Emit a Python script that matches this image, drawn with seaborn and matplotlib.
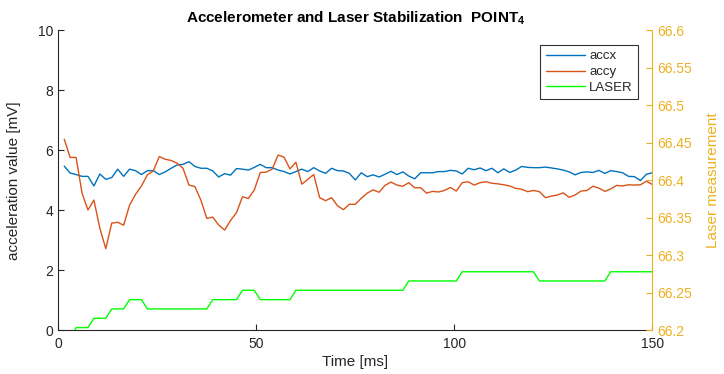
import numpy as np
import pandas as pd
import matplotlib
matplotlib.use("Agg")
import matplotlib.pyplot as plt
import seaborn as sns

# sampling grid: one reading every 1.5 ms
time_ms = np.round(np.arange(1, 101) * 1.5, 1)

accx = [5.47, 5.24, 5.19, 5.13, 5.13, 4.81, 5.21, 5.03, 5.09, 5.37,
        5.13, 5.37, 5.32, 5.19, 5.32, 5.32, 5.19, 5.28, 5.40, 5.51,
        5.53, 5.62, 5.46, 5.40, 5.40, 5.31, 5.11, 5.22, 5.17, 5.39,
        5.37, 5.34, 5.43, 5.53,
        5.42, 5.42, 5.34, 5.29, 5.21, 5.29, 5.37, 5.29, 5.42, 5.31,
        5.23, 5.40, 5.32, 5.31, 5.23, 5.01, 5.25, 5.12, 5.18, 5.11,
        5.20, 5.30, 5.19, 5.28, 5.14, 5.05, 5.25, 5.25, 5.25, 5.29,
        5.29, 5.33, 5.31,
        5.21, 5.40, 5.35, 5.41, 5.32, 5.40, 5.25, 5.38, 5.26, 5.34,
        5.46, 5.43, 5.42, 5.42, 5.44, 5.41, 5.38, 5.34, 5.28, 5.18,
        5.26, 5.28, 5.26, 5.33, 5.23, 5.32, 5.29, 5.25, 5.13, 5.12,
        4.99, 5.20, 5.25]

accy = [6.37, 5.76, 5.76, 4.57, 4.01, 4.34, 3.40, 2.72, 3.57, 3.60,
        3.50, 4.17, 4.53, 4.81, 5.18, 5.31, 5.79, 5.70, 5.66, 5.57,
        5.40, 4.84, 4.79, 4.34, 3.73, 3.77, 3.51, 3.34, 3.66, 3.92,
        4.45, 4.39, 4.68, 5.26,
        5.27, 5.37, 5.84, 5.77, 5.38, 5.60, 4.87, 5.03, 5.19, 4.42,
        4.32, 4.42, 4.15, 4.02, 4.20, 4.20, 4.40, 4.57, 4.68, 4.60,
        4.83, 4.94, 4.84, 4.80, 4.92, 4.75, 4.75, 4.57, 4.63, 4.61,
        4.66, 4.76, 4.64,
        4.92, 4.95, 4.84, 4.92, 4.95, 4.90, 4.88, 4.85, 4.81, 4.73,
        4.70, 4.62, 4.66, 4.62, 4.42, 4.47, 4.51, 4.58, 4.43, 4.51,
        4.64, 4.66, 4.80, 4.74, 4.63, 4.71, 4.83, 4.81, 4.85, 4.84,
        4.85, 4.97, 4.86]

# laser readings (quantised, held for several samples)
laser = ([66.186] * 2 + [66.2035] * 3 + [66.216] * 3 + [66.2284] * 3 +
         [66.2408] * 3 + [66.2284] * 11 + [66.2408] * 5 + [66.2533] * 3 +
         [66.2408] * 6 + [66.2533] * 19 + [66.2657] * 9 + [66.278] * 13 +
         [66.2657] * 12 + [66.278] * 8)

left_ticks = [0, 2, 4, 6, 8, 10]
right_ticks = [66.2, 66.25, 66.3, 66.35, 66.4, 66.45, 66.5, 66.55, 66.6]
x_ticks = [0, 50, 100, 150]

df = pd.DataFrame({'time': time_ms, 'accx': accx, 'accy': accy, 'laser': laser})

sns.set_style('white')
plt.rcParams['font.family'] = ['Liberation Sans', 'DejaVu Sans']
plt.rcParams['mathtext.fontset'] = 'custom'
plt.rcParams['mathtext.bf'] = 'Liberation Sans:bold'
plt.rcParams['mathtext.rm'] = 'Liberation Sans'

BLUE = '#0072BD'
ORANGE = '#D95319'
GREEN = '#00FF00'
RIGHT_COL = '#EDB120'
DARK = '#262626'

fig = plt.figure(figsize=(7.24, 3.74), dpi=100)
ax = fig.add_axes([0.0805, 0.117, 0.8205, 0.802])
ax2 = ax.twinx()

sns.lineplot(data=df, x='time', y='accx', ax=ax, color=BLUE, lw=1.0, label='accx')
sns.lineplot(data=df, x='time', y='accy', ax=ax, color=ORANGE, lw=1.0, label='accy')
sns.lineplot(data=df, x='time', y='laser', ax=ax2, color=GREEN, lw=1.0, label='LASER')

ax.set_xlim(0, 150)
ax.set_ylim(0, 10)
ax2.set_ylim(66.2, 66.6)
ax.set_xticks(x_ticks)
ax.set_yticks(left_ticks)
ax2.set_yticks(right_ticks)
ax2.set_yticklabels(['%g' % v for v in right_ticks])

ax.set_xlabel('Time [ms]', fontsize=11, color=DARK, labelpad=3)
ax.set_ylabel('acceleration value [mV]', fontsize=11, color=DARK, labelpad=12)
ax2.set_ylabel('Laser measurement', fontsize=11, color=RIGHT_COL, labelpad=10)
ax.set_title(r'Accelerometer and Laser Stabilization  POINT$_{\mathbf{4}}$',
             fontsize=11, fontweight='bold', color='black', pad=6)

for a in (ax, ax2):
    a.spines['top'].set_visible(False)
    for s in a.spines.values():
        s.set_linewidth(0.8)
ax.spines['left'].set_color(DARK)
ax.spines['bottom'].set_color(DARK)
ax.spines['right'].set_visible(False)
ax2.spines['left'].set_visible(False)
ax2.spines['bottom'].set_visible(False)
ax2.spines['right'].set_color(RIGHT_COL)

ax.tick_params(axis='both', direction='in', length=4.5, width=0.8, colors=DARK,
               labelsize=10, left=True, bottom=True)
ax2.tick_params(axis='y', direction='in', length=4.5, width=0.8, colors=RIGHT_COL,
                labelsize=10, right=True)
ax.xaxis.set_tick_params(pad=5)

ax.get_legend().remove()
ax2.get_legend().remove()
handles = ax.get_lines()[:2] + ax2.get_lines()[:1]
leg = ax2.legend(handles, ['accx', 'accy', 'LASER'], loc='upper right',
                 bbox_to_anchor=(0.976, 0.952), borderaxespad=0, fontsize=9.5,
                 frameon=True, fancybox=False, framealpha=1, edgecolor='#333333',
                 handlelength=3.0, handletextpad=0.3, labelspacing=0.28,
                 borderpad=0.4)
leg.get_frame().set_linewidth(0.8)

fig.savefig('out.png', dpi=100)
